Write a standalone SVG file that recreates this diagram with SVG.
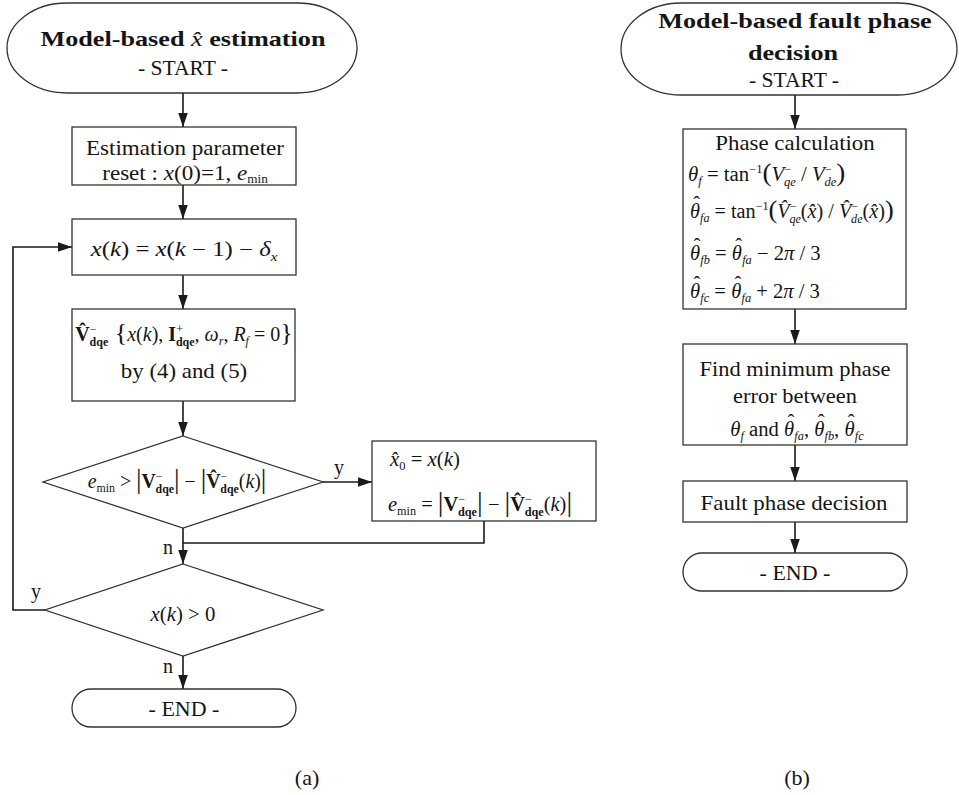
<svg xmlns="http://www.w3.org/2000/svg" width="959" height="795" viewBox="0 0 959 795">
<defs>
<marker id="ah" markerUnits="userSpaceOnUse" markerWidth="15" markerHeight="10" refX="14" refY="4.75" orient="auto">
<path d="M0,0 L14,4.75 L0,9.5 z" fill="#1a1a1a"/>
</marker>
<style>
.sh{fill:#fff;stroke:#333;stroke-width:1.3}
.cn{fill:none;stroke:#1a1a1a;stroke-width:1.6}
.ar{marker-end:url(#ah)}
.t{font-family:"Liberation Serif","Times New Roman",serif;font-size:21px;fill:#151515}
.mt{font-size:20px}
.lb{font-size:20px}
.h{font-weight:bold;font-size:22px}
.i{font-style:italic}
.s{font-size:12px}
.bd{font-weight:bold}
.m{text-anchor:middle}
.big{font-size:28px}
</style>
</defs>
<rect width="959" height="795" fill="#fff"/>

<g id="connectors">
<path class="cn ar" d="M183,93 V127"/>
<path class="cn ar" d="M183,185 V219"/>
<path class="cn ar" d="M183,275 V309"/>
<path class="cn ar" d="M183,401 V436"/>
<path class="cn ar" d="M323,482 H372"/>
<path class="cn ar" d="M183,528 V564"/>
<path class="cn" d="M484,521 V543 H183"/>
<path class="cn ar" d="M45,610 H13 V247 H72"/>
<path class="cn ar" d="M183,656 V689"/>
<path class="cn ar" d="M795,95 V129"/>
<path class="cn ar" d="M795,309 V344"/>
<path class="cn ar" d="M795,445 V481"/>
<path class="cn ar" d="M795,522 V553"/>
<text class="t lb m" transform="translate(339 474)">y</text>
<text class="t lb m" transform="translate(168 554)">n</text>
<text class="t lb m" transform="translate(36 598)">y</text>
<text class="t lb m" transform="translate(168 673)">n</text>
</g>

<g id="start-a">
<rect class="sh" x="7" y="3" width="350" height="90" rx="60" ry="45"/>
<text class="t h m" transform="translate(183 46) scale(1.19 1)">Model-based <tspan class="i" font-weight="normal">x̂</tspan> estimation</text>
<text class="t lb m" transform="translate(183 75) scale(1.08 1)">- START -</text>
</g>

<g id="box-reset">
<rect class="sh" x="72" y="127" width="224" height="58"/>
<text class="t m" transform="translate(185 155) scale(1.1 1)">Estimation parameter</text>
<text class="t m" transform="translate(185 180) scale(1.1 1)">reset : <tspan class="i">x</tspan>(0)=1, <tspan class="i">e</tspan><tspan class="s" dy="3">min</tspan></text>
</g>

<g id="box-update">
<rect class="sh" x="72" y="219" width="224" height="56"/>
<text class="t mt m" transform="translate(184 256) scale(1.24 1)"><tspan class="i">x</tspan>(<tspan class="i">k</tspan>) = <tspan class="i">x</tspan>(<tspan class="i">k</tspan> − 1) − <tspan class="i">δ</tspan><tspan class="s i" dy="5">x</tspan></text>
</g>

<g id="box-vhat">
<rect class="sh" x="72" y="309" width="223" height="92"/>
<text class="t mt m" transform="translate(184 341) scale(1.0 1)"><tspan class="bd">V̂</tspan><tspan class="s" dy="-8">−</tspan><tspan class="s bd" dx="-7" dy="13">dqe</tspan><tspan dy="-5" font-size="26"> {</tspan><tspan class="i">x</tspan>(<tspan class="i">k</tspan>), <tspan class="bd">I</tspan><tspan class="s" dy="-8">+</tspan><tspan class="s bd" dx="-7" dy="13">dqe</tspan><tspan dy="-5">, </tspan><tspan class="i">ω</tspan><tspan class="s i" dy="4">r</tspan><tspan dy="-4">, </tspan><tspan class="i">R</tspan><tspan class="s i" dy="4">f</tspan><tspan dy="-4"> = 0</tspan><tspan font-size="26">}</tspan></text>
<text class="t m" transform="translate(184 378) scale(1.09 1)">by (4) and (5)</text>
</g>

<g id="dec-emin">
<path class="sh" d="M183,436 L323,482 L183,528 L43,482 Z"/>
<text class="t mt m" transform="translate(177 488) scale(0.99 1)"><tspan class="i">e</tspan><tspan class="s" dy="4">min</tspan><tspan dy="-4"> &gt; </tspan><tspan class="big">|</tspan><tspan class="bd">V</tspan><tspan class="s" dy="-8">−</tspan><tspan class="s bd" dx="-7" dy="13">dqe</tspan><tspan dy="-5" class="big">|</tspan> − <tspan class="big">|</tspan><tspan class="bd">V̂</tspan><tspan class="s" dy="-8">−</tspan><tspan class="s bd" dx="-7" dy="13">dqe</tspan><tspan dy="-5">(</tspan><tspan class="i">k</tspan>)<tspan class="big">|</tspan></text>
</g>

<g id="box-store">
<rect class="sh" x="372" y="441" width="224" height="80"/>
<text class="t mt" transform="translate(390 466) scale(1.04 1)"><tspan class="i">x̂</tspan><tspan class="s" dy="4">0</tspan><tspan dy="-4"> = </tspan><tspan class="i">x</tspan>(<tspan class="i">k</tspan>)</text>
<text class="t mt" transform="translate(388 511) scale(1.02 1)"><tspan class="i">e</tspan><tspan class="s" dy="4">min</tspan><tspan dy="-4"> = </tspan><tspan class="big">|</tspan><tspan class="bd">V</tspan><tspan class="s" dy="-8">−</tspan><tspan class="s bd" dx="-7" dy="13">dqe</tspan><tspan dy="-5" class="big">|</tspan> − <tspan class="big">|</tspan><tspan class="bd">V̂</tspan><tspan class="s" dy="-8">−</tspan><tspan class="s bd" dx="-7" dy="13">dqe</tspan><tspan dy="-5">(</tspan><tspan class="i">k</tspan>)<tspan class="big">|</tspan></text>
</g>

<g id="dec-xk">
<path class="sh" d="M183,564 L323,610 L183,656 L45,610 Z"/>
<text class="t mt m" transform="translate(183 621) scale(1.04 1)"><tspan class="i">x</tspan>(<tspan class="i">k</tspan>) &gt; 0</text>
</g>

<g id="end-a">
<rect class="sh" x="72" y="689" width="224" height="38" rx="19"/>
<text class="t lb m" transform="translate(184 716) scale(1.1 1)">- END -</text>
</g>

<text class="t lb m" transform="translate(307 785) scale(1.1 1)">(a)</text>

<g id="start-b">
<rect class="sh" x="621" y="3" width="336" height="92" rx="60" ry="46"/>
<text class="t h m" transform="translate(795 28) scale(1.19 1)">Model-based fault phase</text>
<text class="t h m" transform="translate(793 60) scale(1.19 1)">decision</text>
<text class="t lb m" transform="translate(794 87) scale(1.08 1)">- START -</text>
</g>

<g id="box-phase">
<rect class="sh" x="683" y="129" width="223" height="180"/>
<text class="t m" transform="translate(795 150) scale(1.09 1)">Phase calculation</text>
<text class="t mt" transform="translate(688 181) scale(1.04 1)"><tspan class="i">θ</tspan><tspan class="s i" dy="4">f</tspan><tspan dy="-4"> = tan</tspan><tspan class="s" dy="-8">−1</tspan><tspan dy="8" font-size="26">(</tspan><tspan class="i">V</tspan><tspan class="s" dy="-8">−</tspan><tspan class="s i" dx="-7" dy="13">qe</tspan><tspan dy="-5"> / </tspan><tspan class="i">V</tspan><tspan class="s" dy="-8">−</tspan><tspan class="s i" dx="-7" dy="13">de</tspan><tspan dy="-5" font-size="26">)</tspan></text>
<text class="t mt" transform="translate(690 218) scale(1.01 1)"><tspan class="i">θ</tspan><tspan dx="-6.5" dy="-7">ˆ</tspan><tspan class="s i" dy="11">fa</tspan><tspan dy="-4"> = tan</tspan><tspan class="s" dy="-8">−1</tspan><tspan dy="8" font-size="26">(</tspan><tspan class="i">V̂</tspan><tspan class="s" dy="-8">−</tspan><tspan class="s i" dx="-7" dy="13">qe</tspan><tspan dy="-5">(</tspan><tspan class="i">x̂</tspan>) / <tspan class="i">V̂</tspan><tspan class="s" dy="-8">−</tspan><tspan class="s i" dx="-7" dy="13">de</tspan><tspan dy="-5">(</tspan><tspan class="i">x̂</tspan>)<tspan font-size="26">)</tspan></text>
<text class="t mt" transform="translate(690 260) scale(1.03 1)"><tspan class="i">θ</tspan><tspan dx="-6.5" dy="-7">ˆ</tspan><tspan class="s i" dy="11">fb</tspan><tspan dy="-4"> = </tspan><tspan class="i">θ</tspan><tspan dx="-6.5" dy="-7">ˆ</tspan><tspan class="s i" dy="11">fa</tspan><tspan dy="-4"> − 2</tspan><tspan class="i">π</tspan> / 3</text>
<text class="t mt" transform="translate(690 298) scale(1.03 1)"><tspan class="i">θ</tspan><tspan dx="-6.5" dy="-7">ˆ</tspan><tspan class="s i" dy="11">fc</tspan><tspan dy="-4"> = </tspan><tspan class="i">θ</tspan><tspan dx="-6.5" dy="-7">ˆ</tspan><tspan class="s i" dy="11">fa</tspan><tspan dy="-4"> + 2</tspan><tspan class="i">π</tspan> / 3</text>
</g>

<g id="box-findmin">
<rect class="sh" x="683" y="344" width="224" height="101"/>
<text class="t m" transform="translate(795 376) scale(1.07 1)">Find minimum phase</text>
<text class="t m" transform="translate(795 403) scale(1.07 1)">error between</text>
<text class="t mt m" transform="translate(797 436) scale(1.03 1)"><tspan class="i">θ</tspan><tspan class="s i" dy="4">f</tspan><tspan dy="-4"> and </tspan><tspan class="i">θ</tspan><tspan dx="-6.5" dy="-7">ˆ</tspan><tspan class="s i" dy="11">fa</tspan><tspan dy="-4">, </tspan><tspan class="i">θ</tspan><tspan dx="-6.5" dy="-7">ˆ</tspan><tspan class="s i" dy="11">fb</tspan><tspan dy="-4">, </tspan><tspan class="i">θ</tspan><tspan dx="-6.5" dy="-7">ˆ</tspan><tspan class="s i" dy="11">fc</tspan></text>
</g>

<g id="box-decision">
<rect class="sh" x="683" y="481" width="224" height="41"/>
<text class="t m" transform="translate(794 510) scale(1.09 1)">Fault phase decision</text>
</g>

<g id="end-b">
<rect class="sh" x="683" y="553" width="224" height="38" rx="19"/>
<text class="t lb m" transform="translate(795 580) scale(1.1 1)">- END -</text>
</g>

<text class="t lb m" transform="translate(797 785) scale(1.1 1)">(b)</text>
</svg>
